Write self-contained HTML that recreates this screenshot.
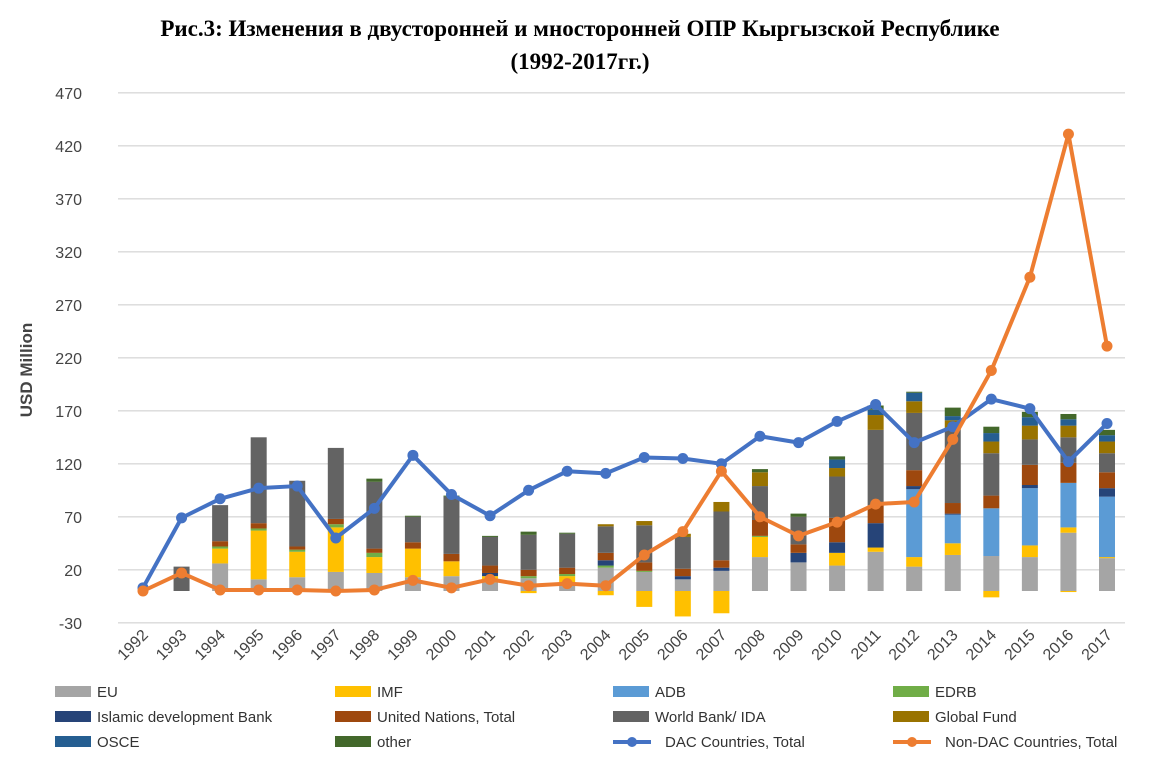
<!DOCTYPE html>
<html><head><meta charset="utf-8"><style>
body{margin:0;background:#fff;width:1160px;height:775px;overflow:hidden}
svg{display:block}
</style></head><body>
<svg id="s" width="1160" height="775" xmlns="http://www.w3.org/2000/svg" font-family="Liberation Sans, sans-serif">
<text x="580" y="36" text-anchor="middle" font-family="Liberation Serif, serif" font-weight="bold" font-size="23">Рис.3: Изменения в двусторонней и мносторонней ОПР Кыргызской Республике</text>
<text x="580" y="69" text-anchor="middle" font-family="Liberation Serif, serif" font-weight="bold" font-size="23">(1992-2017гг.)</text>
<text transform="translate(32,370) rotate(-90)" text-anchor="middle" font-size="17" font-weight="bold" fill="#444">USD Million</text>
</svg>
<script>
const s=document.getElementById('s');const NS='http://www.w3.org/2000/svg';
function el(t,a,txt){const e=document.createElementNS(NS,t);for(const k in a)e.setAttribute(k,a[k]);if(txt!==undefined)e.textContent=txt;s.appendChild(e);return e;}
const Y=v=>591-v*1.06, X=i=>143+38.56*i;
for(let v=-30;v<=470;v+=50){el('line',{x1:118,x2:1125,y1:Y(v),y2:Y(v),stroke:'#d9d9d9','stroke-width':1.3});el('text',{x:82,y:Y(v)+6,'text-anchor':'end','font-size':16,fill:'#444'},v);}
const cols=['#a5a5a5','#ffc000','#5b9bd5','#70ad47','#264478','#9e480e','#636363','#997300','#255e91','#43682b'];
const B={1993:[0,0,0,0,0,0,23],1994:[26,40,40,42,42,47,81],1995:[11,57,57,59,59,64,145],1996:[13,37,37,39,39,42,104],1997:[18,60,60,63,63,68,135],
1998:[17,32,32,36,36,40,103,103,103,106],1999:[13,40,40,40,40,46,70,70,70,71],2000:[14,28,28,28,28,35,89,89,89,90],2001:[8,14,14,14,17,24,51,51,51,52],
2002:[12,12,12,14,14,20,53,53,53,56],2003:[6,14,14,16,16,22,54,54,54,55],2004:[22,22,22,24,29,36,61,63,63,63],2005:[18,18,18,19,19,27,62,66],
2006:[11,11,11,11,14,21,51,54],2007:[19,19,19,19,22,29,75,84],2008:[32,51,51,52,52,67,99,112,112,115],2009:[27,27,27,27,36,44,70,70,70,73],
2010:[24,36,36,36,46,69,108,116,124,127],2011:[37,41,41,41,64,81,152,166,171,175],2012:[23,32,96,96,99,114,168,179,187,188],
2013:[34,45,72,72,73,83,152,161,165,173],2014:[33,33,78,78,78,90,130,141,149,155],2015:[32,43,97,97,100,119,143,156,164,169],
2016:[55,60,102,102,102,121,145,156,162,167],2017:[31,32,89,89,97,112,130,141,147,152]};
const N={2002:-2,2004:-4,2005:-15,2006:-24,2007:-21,2014:-6,2016:-1};
for(const y in B){const i=y-1992,a=B[y];let p=0;a.forEach((t,k)=>{if(t>p){el('rect',{x:X(i)-8,y:Y(t),width:16,height:Y(p)-Y(t),fill:cols[k]});p=t;}});}
for(const y in N){const i=y-1992;el('rect',{x:X(i)-8,y:Y(0),width:16,height:Y(N[y])-Y(0),fill:'#ffc000'});}
const D=[3,69,87,97,99,50,78,128,91,71,95,113,111,126,125,120,146,140,160,176,140,155,181,172,122,158];
const O=[0,17,1,1,1,0,1,10,3,11,5,7,5,34,56,113,70,52,65,82,84,143,208,296,431,231];
function line(d,c){el('polyline',{points:d.map((v,i)=>X(i)+','+Y(v)).join(' '),fill:'none',stroke:c,'stroke-width':4,'stroke-linejoin':'round'});d.forEach((v,i)=>el('circle',{cx:X(i),cy:Y(v),r:5.5,fill:c}));}
line(D,'#4472c4');line(O,'#ed7d31');
for(let i=0;i<26;i++){el('text',{x:0,y:0,transform:`translate(${X(i)+6},${636}) rotate(-45)`,'text-anchor':'end','font-size':16,fill:'#444'},1992+i);}
const L=[['EU',0],['IMF',1],['ADB',2],['EDRB',3],['Islamic development Bank',4],['United Nations, Total',5],['World Bank/ IDA',6],['Global Fund',7],['OSCE',8],['other',9],['DAC Countries, Total','#4472c4'],['Non-DAC Countries, Total','#ed7d31']];
const cx=[55,335,613,893];
L.forEach((l,j)=>{const r=Math.floor(j/4),c=j%4,x=cx[c],y=692+r*25;
if(typeof l[1]==='number'){el('rect',{x:x,y:y-6,width:36,height:11,fill:cols[l[1]]});el('text',{x:x+42,y:y+5,'font-size':15,fill:'#333'},l[0]);}
else{el('line',{x1:x,x2:x+38,y1:y,y2:y,stroke:l[1],'stroke-width':4});el('circle',{cx:x+19,cy:y,r:5,fill:l[1]});el('text',{x:x+52,y:y+5,'font-size':15,fill:'#333'},l[0]);}});
</script>
</body></html>
